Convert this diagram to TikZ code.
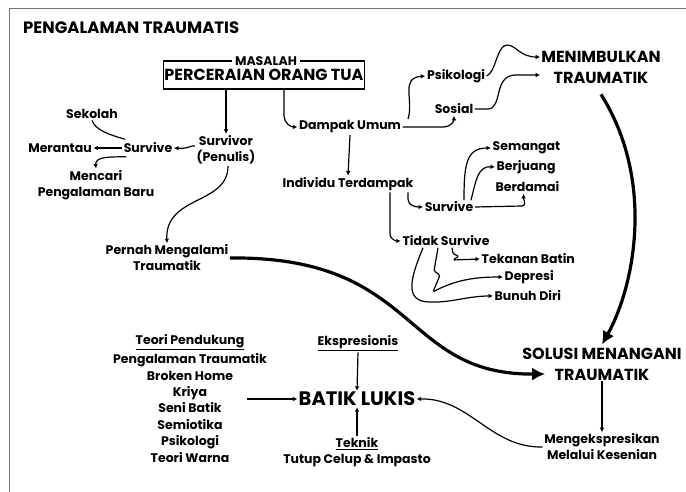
\documentclass[tikz,border=0pt]{standalone}
\usepackage{fontspec}
\setmainfont{Poppins}
\usetikzlibrary{arrows.meta}
\begin{document}
\begin{tikzpicture}[x=1pt,y=-1pt,
  lbl/.style={font=\fontsize{12.5}{16}\selectfont\bfseries, align=center, inner sep=1.5pt},
  hd/.style={font=\fontsize{16}{21}\selectfont\bfseries, align=center, inner sep=1pt},
  arr/.style={-{Latex[length=4.5pt,width=4.5pt]}, line width=1.2pt},
  ln/.style={line width=1.2pt},
  bigarr/.style={-{Latex[length=13pt,width=13pt]}, line width=3.2pt}]
\useasboundingbox (0,0) rectangle (686,492);
\fill[white] (0,0) rectangle (686,492);
\draw[black!55, line width=1pt] (686,9) -- (9,9) -- (9,492);

\node[hd, anchor=west, font=\fontsize{16.5}{20}\selectfont\bfseries] (title) at (22,28) {PENGALAMAN TRAUMATIS};

% x positions used by connectors
\coordinate (xa) at (408,0);
\coordinate (xb) at (390,0);
\coordinate (xc) at (284,0);

% box
\node[hd, draw, line width=1.8pt, minimum width=198pt, minimum height=28pt] (perc) at (264,75) {PERCERAIAN ORANG TUA};
\node[lbl, fill=white, inner xsep=3pt, inner ysep=0pt] (masalah) at (266,61) {MASALAH};

% left branch
\node[lbl] (survivor) at (226,150) {Survivor\\(Penulis)};
\node[lbl] (surv1) at (148,148) {Survive};
\node[lbl] (merantau) at (60,148) {Merantau};
\node[lbl] (sekolah) at (92,114) {Sekolah};
\node[lbl] (mencari) at (96,185) {Mencari\\Pengalaman Baru};
\node[lbl] (pernah) at (167,258) {Pernah Mengalami\\Traumatik};

\draw[arr] (perc.south -| survivor.north) -- (survivor.north);
\draw[arr] ([yshift=4pt]survivor.west) .. controls (191,145) and (189,149) .. (surv1.east);
\draw[arr] (surv1.west) -- (merantau.east);
\draw[ln] ([xshift=3pt,yshift=2pt]surv1.north west) .. controls (110,135) and (95,130) .. (sekolah.south);
\draw[arr] ([xshift=4pt,yshift=-2pt]surv1.south west) .. controls (112,157) and (95,156) .. (mencari.north);
\draw[arr] ([xshift=2pt]survivor.south) .. controls (228,205) and (165,195) .. (pernah.north);

% middle
\node[lbl] (dampak) at (350,127) {Dampak Umum};
\node[lbl] (individu) at (348,184) {Individu Terdampak};
\draw[arr] (perc.south -| xc) -- ++(0,26) to[out=-90,in=180] (dampak.west);
\draw[arr] (dampak.south) -- (individu.north);

\node[lbl] (psik) at (456,76) {Psikologi};
\node[lbl] (sosial) at (454,109) {Sosial};
\node[hd] (menim) at (601,67) {MENIMBULKAN\\TRAUMATIK};

\draw[arr] (dampak.north -| xa) .. controls (414,100) and (400,78) .. (psik.west);
\draw[arr] (dampak.east) -- (444,127) to[out=0,in=-90] (sosial.south);
\draw[arr] (psik.east) .. controls (496,72) and (497,45) .. (507,45) .. controls (516,45) and (520,57) .. ([yshift=10pt]menim.west);
\draw[arr] (sosial.east) -- (488,109) .. controls (503,108) and (493,76) .. (515,75) -- ([yshift=-8pt]menim.west);

% survive branch
\node[lbl] (surv2) at (449,207) {Survive};
\node[lbl, anchor=west] (semangat) at (491,148) {Semangat};
\node[lbl, anchor=west] (berjuang) at (495,167) {Berjuang};
\node[lbl, anchor=west] (berdamai) at (494,187) {Berdamai};
\draw[arr] (individu.south -| xa) -- ++(0,7) to[out=-90,in=180] (surv2.west);
\draw[arr] ([xshift=15pt]surv2.north) .. controls (464,165) and (466,148) .. (semangat.west);
\draw[arr] ([xshift=22pt]surv2.north) .. controls (476,180) and (478,166) .. (berjuang.west);
\draw[arr] (surv2.east) -- (522,206) to[out=0,in=-90] ([xshift=-4pt]berdamai.south);

% tidak survive
\node[lbl] (tidak) at (446,241) {Tidak Survive};
\node[lbl, anchor=west] (tekanan) at (480,259) {Tekanan Batin};
\node[lbl, anchor=west] (depresi) at (503,277) {Depresi};
\node[lbl, anchor=west] (bunuh) at (493,296) {Bunuh Diri};
\draw[arr] (individu.south -| xb) -- (390,234) to[out=-90,in=180] (tidak.west);
\draw[arr, rounded corners=1.5pt] ([xshift=6pt]tidak.south) -- (453,254) -- (459,256) -- (453,260) -- (tekanan.west);
\draw[arr, rounded corners=1.5pt] ([xshift=-8pt]tidak.south) -- (434,271) -- (440,275) -- (433,292) .. controls (455,280) and (475,277) .. (depresi.west);
\draw[arr] ([xshift=-23pt]tidak.south) .. controls (412,275) and (402,302) .. (430,302) .. controls (450,303) and (468,296) .. (bunuh.west);

% solusi
\node[hd] (solusi) at (602,364) {SOLUSI MENANGANI\\TRAUMATIK};
\node[lbl] (mengek) at (602,447) {Mengekspresikan\\Melalui Kesenian};
\draw[bigarr] ([yshift=-10pt]menim.south) .. controls (655,180) and (635,285) .. ([yshift=2pt]solusi.north);
\draw[arr] (solusi.south) -- (mengek.north);
\draw[bigarr] (pernah.east) .. controls (420,256) and (400,375) .. ([xshift=24pt,yshift=-10pt]solusi.west);

% batik
\node[hd, font=\fontsize{19.5}{22}\selectfont\bfseries] (batik) at (357,399) {BATIK LUKIS};
\node[lbl] (eksp) at (358,343) {\underline{Ekspresionis}};
\node[lbl] (teknik) at (357,444) {\underline{Teknik}};
\node[lbl] (tutup) at (357,461) {Tutup Celup \& Impasto};
\node[lbl] (teorihd) at (190,342) {\underline{Teori Pendukung}};
\node[lbl, font=\fontsize{12.5}{16.4}\selectfont\bfseries] (teori) at (190,408) {Pengalaman Traumatik\\Broken Home\\Kriya\\Seni Batik\\Semiotika\\Psikologi\\Teori Warna};
\draw[arr] ([xshift=-22pt,yshift=9pt]teori.east) -- (batik.west);
\draw[arr] (eksp.south) -- (batik.north);
\draw[arr] (teknik.north) -- (batik.south);
\draw[arr] (mengek.west) .. controls (490,448) and (470,398) .. (batik.east);
\end{tikzpicture}
\end{document}
